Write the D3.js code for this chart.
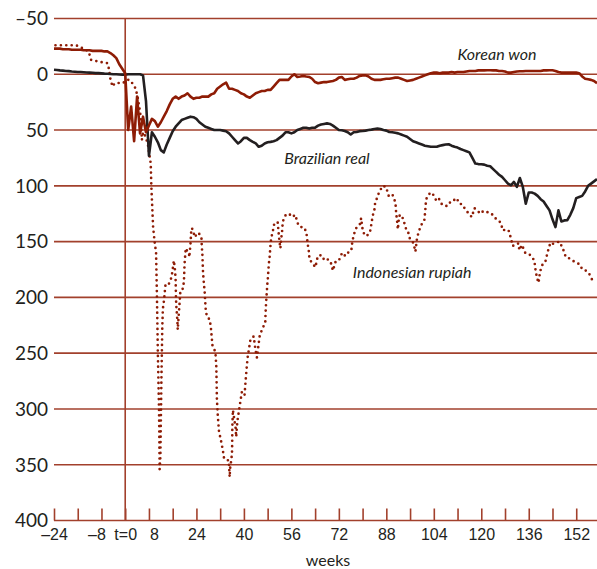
<!DOCTYPE html>
<html>
<head>
<meta charset="utf-8">
<script src="https://cdn.jsdelivr.net/npm/d3@7"></script>
<style>
  body { margin: 0; background: #fff; }
  svg { display: block; font-family: Lato, "Open Sans", sans-serif; }
</style>
</head>
<body>
<svg id="chart" width="597" height="569"></svg>
<script>
// weeks relative to the start of the crisis (t=0)
const weeks = d3.range(-24, 160);

// Korean won, one value per week from -24 to 159
const wonValues = [
  -23, -23, -23, -22.5, -22.5, -22.5, -22, -22, -22, -22, -21.5, -21.5, -21.5, -21, -21, -21, -21,
  -20.5, -20.5, -19, -17, -14.5, -9, -5, -1,
  50, 29, 60, 20, 53, 38, 52, 46, 40, 42, 47, 43, 38, 33, 27, 22, 20, 22, 20, 19,
  17, 20, 22, 21, 21, 20, 20, 20, 18, 17, 13, 11, 9, 7.5, 13, 13, 14, 15, 17, 18,
  20, 21, 19, 17, 16, 15, 15, 14, 14, 11, 8, 5, 5, 5, 5, 2, 0, 2.4, 2, 1.5,
  2, 2.4, 4, 7, 8, 7.5, 7, 7, 6.5, 6, 5, 3, 2.5, 5, 4.5, 4, 4, 3, 1.5, 1,
  1, 2, 4, 5, 5, 5, 4.5, 4, 4, 3.5, 3, 3, 4, 5, 6, 5.5, 5, 4, 3, 2,
  1, 0, -1, -1.5, -1.5, -1, -1.5, -1.5, -1.5, -2, -1.5, -2, -2, -2, -2.5, -3, -3, -3, -3.5, -3.5,
  -3.5, -3.6, -3.6, -3.5, -3.5, -3, -3, -2.5, -1.5, -1.5, -2, -2.5, -2.7, -2.7, -3, -3, -3, -3, -3, -3,
  -3.5, -3.5, -3.6, -3.6, -3, -2, -1.5, -1.5, -1.5, -1.5, -1.5, -1.5, -1, 2, 4, 4.5, 5, 6, 8
];

// Brazilian real, one value per week from -24 to 159
const realValues = [
  -4, -3.8, -3.5, -3.3, -3, -2.8, -2.5, -2.3, -2, -2, -1.8, -1.6, -1.5, -1.3, -1, -1, -0.8,
  -0.6, -0.5, -0.3, 0, 0, 0.2, 0.3, 0.3,
  0, 0, 0, 0, 0, 1, 24, 73, 52, 56, 61, 68, 70, 63, 57, 51, 47, 44, 41, 40,
  39, 38, 38.5, 40, 43, 45, 47, 48, 49, 50, 50, 50, 50.5, 51, 53, 56, 59, 62, 60, 57,
  57, 59, 60.6, 62, 65, 64, 62, 61, 60.6, 60, 59, 57, 55, 52, 52, 53, 52, 50, 49, 48,
  48, 48.7, 48, 47.8, 46, 45, 44.5, 44, 44.5, 46, 48, 50, 50.2, 50.8, 52, 54, 52, 51.7, 51, 50.8,
  50.5, 50, 49.6, 49, 48.7, 49, 50, 50.5, 51.7, 52, 52.5, 53, 54, 55, 56, 58, 60, 61, 62, 63,
  64, 64.5, 65, 65, 65, 64, 63.5, 63, 62.7, 64, 65, 65.7, 67, 68, 69, 70, 75, 80, 80.5, 80.6,
  81, 82, 82.4, 85, 87.5, 90, 92, 95, 98, 99.5, 96.5, 101, 93, 101, 116, 106, 106, 107, 109, 112,
  114, 118, 122, 130, 137, 122, 132, 131, 130.8, 126, 120, 111, 110, 109, 105, 100, 98, 96, 94
];

// Indonesian rupiah
const rupiahWeeks = [
  -23.5, -20, -16.5, -15, -13.5, -12.3, -11.5, -10, -8.5, -7, -6, -5.5, -5, -4.3, -3.5, -2, -0.7,
  0.5, 1.5, 2.1, 3.2, 3.8, 4.3, 4.9, 5.3, 5.6, 6, 6.9, 7.7, 8.2, 8.6, 8.8, 9.4, 9.9, 10.4, 10.7,
  11, 11.4, 11.6, 11.85, 12.2, 12.5, 12.7, 13.1, 13.3, 13.6, 14.2, 14.7, 15.6, 16.1, 16.4, 16.8,
  17, 17.1, 17.2, 17.4, 17.6, 17.7, 18.4, 18.6, 19.5, 19.8, 20, 20.4, 20.8, 21.5, 21.6, 22, 22.3,
  22.8, 23.4, 24.5, 25.3, 25.7, 25.8, 26, 26.2, 26.4, 26.8, 27.1, 27.5, 28.5, 28.9, 29.4, 30.4,
  30.7, 30.8, 30.9, 31.2, 31.6, 32.4, 32.9, 33.3, 34.1, 34.9, 35.2, 35.4, 35.8, 36, 36.05, 36.1,
  36.3, 37.2, 37.4, 37.8, 38.6, 39.3, 40.2, 40.6, 41, 41.3, 42.2, 43.3, 43.9, 44.4, 44.9, 45.3,
  46.2, 47.2, 47.3, 47.5, 47.7, 47.9, 48.1, 48.3, 48.4, 48.7, 48.9, 49.2, 49.8, 50.3, 51.4, 51.7,
  52, 52.3, 52.6, 52.9, 53.1, 54.1, 55.2, 56.3, 57.3, 58.2, 59, 60.1, 61, 61.2, 61.5, 61.9, 62.1,
  63, 64.1, 64.9, 66.1, 67.2, 68.3, 69.2, 70, 70.9, 72, 73.1, 74.2, 75.4, 76.2, 76.5, 77, 78,
  79.2, 79.5, 80.1, 81, 81.8, 82.6, 83.1, 83.4, 84, 84.2, 85.1, 85.7, 86.8, 87.9, 88.8, 90, 90.7,
  91.1, 91.3, 91.6, 91.9, 92.3, 93.1, 93.8, 94.7, 95.3, 95.9, 96.7, 97.2, 97.8, 98.3, 98.9, 100,
  100.8, 101.1, 101.4, 102.8, 103.6, 104.8, 105.6, 106.8, 107.9, 108.7, 109.8, 110.7, 111.7,
  112.6, 113.5, 114.6, 115.8, 116.8, 117.7, 118.8, 119.7, 120.5, 121.6, 122.7, 123.6, 124.7,
  125.9, 126.7, 127.2, 128.4, 129.2, 130, 130.6, 131.7, 132.6, 132.8, 133.7, 134.8, 136, 137.1,
  137.9, 138.2, 138.7, 139.3, 139.8, 140.7, 141.6, 142.4, 143.3, 144.1, 145.2, 146.3, 146.9,
  147.6, 148.5, 149.7, 150.8, 151.9, 153, 154.1, 155.3, 156.4, 157.5, 158.6
];
const rupiahValues = [
  -26, -26, -26, -24, -22.5, -20, -13, -12, -11, -10.5, -10, -5, 4, 11, 8, 7.8, 7.8,
  5, 5, 7, 11, 16, 22, 32, 40, 59, 52, 56, 64, 73, 80, 100, 137, 150, 160, 200,
  250, 301, 354, 343, 274, 226, 210, 202, 196, 188, 188, 188, 182, 173, 167, 176,
  185, 199, 207, 214, 222, 229, 202, 194, 192, 185, 170, 156, 158, 160, 164, 152, 138,
  139, 146, 142, 144, 147, 154, 161, 176, 184, 196, 210, 217, 220, 228, 243, 249,
  262, 276, 291, 306, 320, 330, 337, 344, 346, 346, 361, 352, 345, 338, 331, 316,
  301, 317, 325, 311, 297, 285, 288, 274, 261, 253, 238, 235, 247, 254, 243, 235,
  228, 223, 214, 204, 196, 188, 182, 174, 170, 163, 155, 147, 140, 133, 133, 142,
  150, 156, 147, 140, 132, 126, 125, 128, 126, 134, 137, 137, 141, 145, 152, 159, 166,
  169, 173, 163, 162, 167, 166, 168, 176, 168, 167, 160, 163, 159, 158, 151, 144, 137,
  134, 129, 141, 145, 144, 140, 132, 127, 121, 116, 109, 105, 100, 101, 109, 107.5, 112,
  116, 124, 131, 139, 127, 126, 131, 139, 141, 147, 149, 152, 159, 148, 141, 134,
  131, 123, 112, 106, 107, 113, 111, 117, 118, 118, 113.5, 113, 111,
  116, 116.5, 121, 125, 128, 120, 122.5, 125, 123, 122.5, 125, 125.4, 129,
  131, 134, 140, 139, 140, 147, 154, 152, 151.7, 157.7, 153, 160, 160.7, 164,
  167, 174, 181.6, 187, 177, 170, 168, 159, 151, 152, 151, 150, 153,
  157, 164, 165, 167, 169, 170, 175, 176, 179, 185, 185
];

const yTicks = d3.range(-50, 401, 50);
const xTicks = d3.range(-24, 153, 8);
const xLabelled = [-24, -8, 0, 8, 24, 40, 56, 72, 88, 104, 120, 136, 152];

const seriesLabels = [
  { name: "Korean won", week: 125.3, value: -12.5 },
  { name: "Brazilian real", week: 68, value: 80 },
  { name: "Indonesian rupiah", week: 96.7, value: 183 }
];

// --------------------
// Scales
// --------------------
const gridColor = "#a2402c";
const redColor = "#8e1c05";
const inkColor = "#231f20";

const x = d3.scaleLinear().domain([-24, 159]).range([54, 597]);
const y = d3.scaleLinear().domain([-50, 400]).range([18.5, 520.5]);

const svg = d3.select("#chart");

// horizontal grid lines
svg.append("g")
  .selectAll("line")
  .data(yTicks)
  .enter()
  .append("line")
  .attr("x1", x(-24))
  .attr("x2", 597)
  .attr("y1", d => y(d))
  .attr("y2", d => y(d))
  .attr("stroke", gridColor)
  .attr("stroke-width", 1.6);

// y labels
svg.append("g")
  .selectAll("text")
  .data(yTicks)
  .enter()
  .append("text")
  .attr("x", 48)
  .attr("y", d => y(d))
  .attr("dy", "0.36em")
  .attr("text-anchor", "end")
  .attr("fill", inkColor)
  .attr("font-size", 19)
  .text(d => d < 0 ? "\u2013" + Math.abs(d) : d);

// x axis: ticks point up from the 400 line
const xAxis = d3.axisBottom(x)
  .tickValues(xTicks)
  .tickSize(-12)
  .tickFormat(d => xLabelled.includes(d) ? (d === 0 ? "t=0" : (d < 0 ? "\u2013" + Math.abs(d) : d)) : "");

const gx = svg.append("g")
  .attr("transform", "translate(0," + y(400) + ")")
  .call(xAxis);
gx.select(".domain").remove();
gx.selectAll(".tick line").attr("stroke", gridColor).attr("stroke-width", 1.6);
gx.selectAll(".tick text")
  .attr("fill", inkColor)
  .attr("font-size", 16)
  .attr("y", 8)
  .attr("dy", "0.71em")
  .attr("dx", d => d === -8 ? -5 : (d === 8 ? 5 : 0));

svg.append("text")
  .attr("x", 328)
  .attr("y", 566)
  .attr("text-anchor", "middle")
  .attr("fill", inkColor)
  .attr("font-size", 16)
  .text("weeks");

// vertical line at t=0
svg.append("line")
  .attr("x1", x(0))
  .attr("x2", x(0))
  .attr("y1", y(-50))
  .attr("y2", y(400))
  .attr("stroke", gridColor)
  .attr("stroke-width", 1.6);

// --------------------
// Series
// --------------------
const line = d3.line()
  .x(d => x(d[0]))
  .y(d => y(d[1]));

const rupiah = rupiahWeeks.map((w, i) => [w, rupiahValues[i]]);
const real = weeks.map((w, i) => [w, realValues[i]]);
const won = weeks.map((w, i) => [w, wonValues[i]]);

svg.append("path")
  .datum(rupiah)
  .attr("d", line)
  .attr("fill", "none")
  .attr("stroke", redColor)
  .attr("stroke-width", 2.7)
  .attr("stroke-linecap", "round")
  .attr("stroke-dasharray", "0,5.4");

svg.append("path")
  .datum(real)
  .attr("d", line)
  .attr("fill", "none")
  .attr("stroke", inkColor)
  .attr("stroke-width", 2.6)
  .attr("stroke-linejoin", "round");

svg.append("path")
  .datum(won)
  .attr("d", line)
  .attr("fill", "none")
  .attr("stroke", redColor)
  .attr("stroke-width", 2.6)
  .attr("stroke-linejoin", "round");

// series names
svg.append("g")
  .selectAll("text")
  .data(seriesLabels)
  .enter()
  .append("text")
  .attr("x", d => x(d.week))
  .attr("y", d => y(d.value))
  .attr("text-anchor", "middle")
  .attr("fill", inkColor)
  .attr("font-size", 16)
  .attr("font-style", "italic")
  .text(d => d.name);
</script>
</body>
</html>
